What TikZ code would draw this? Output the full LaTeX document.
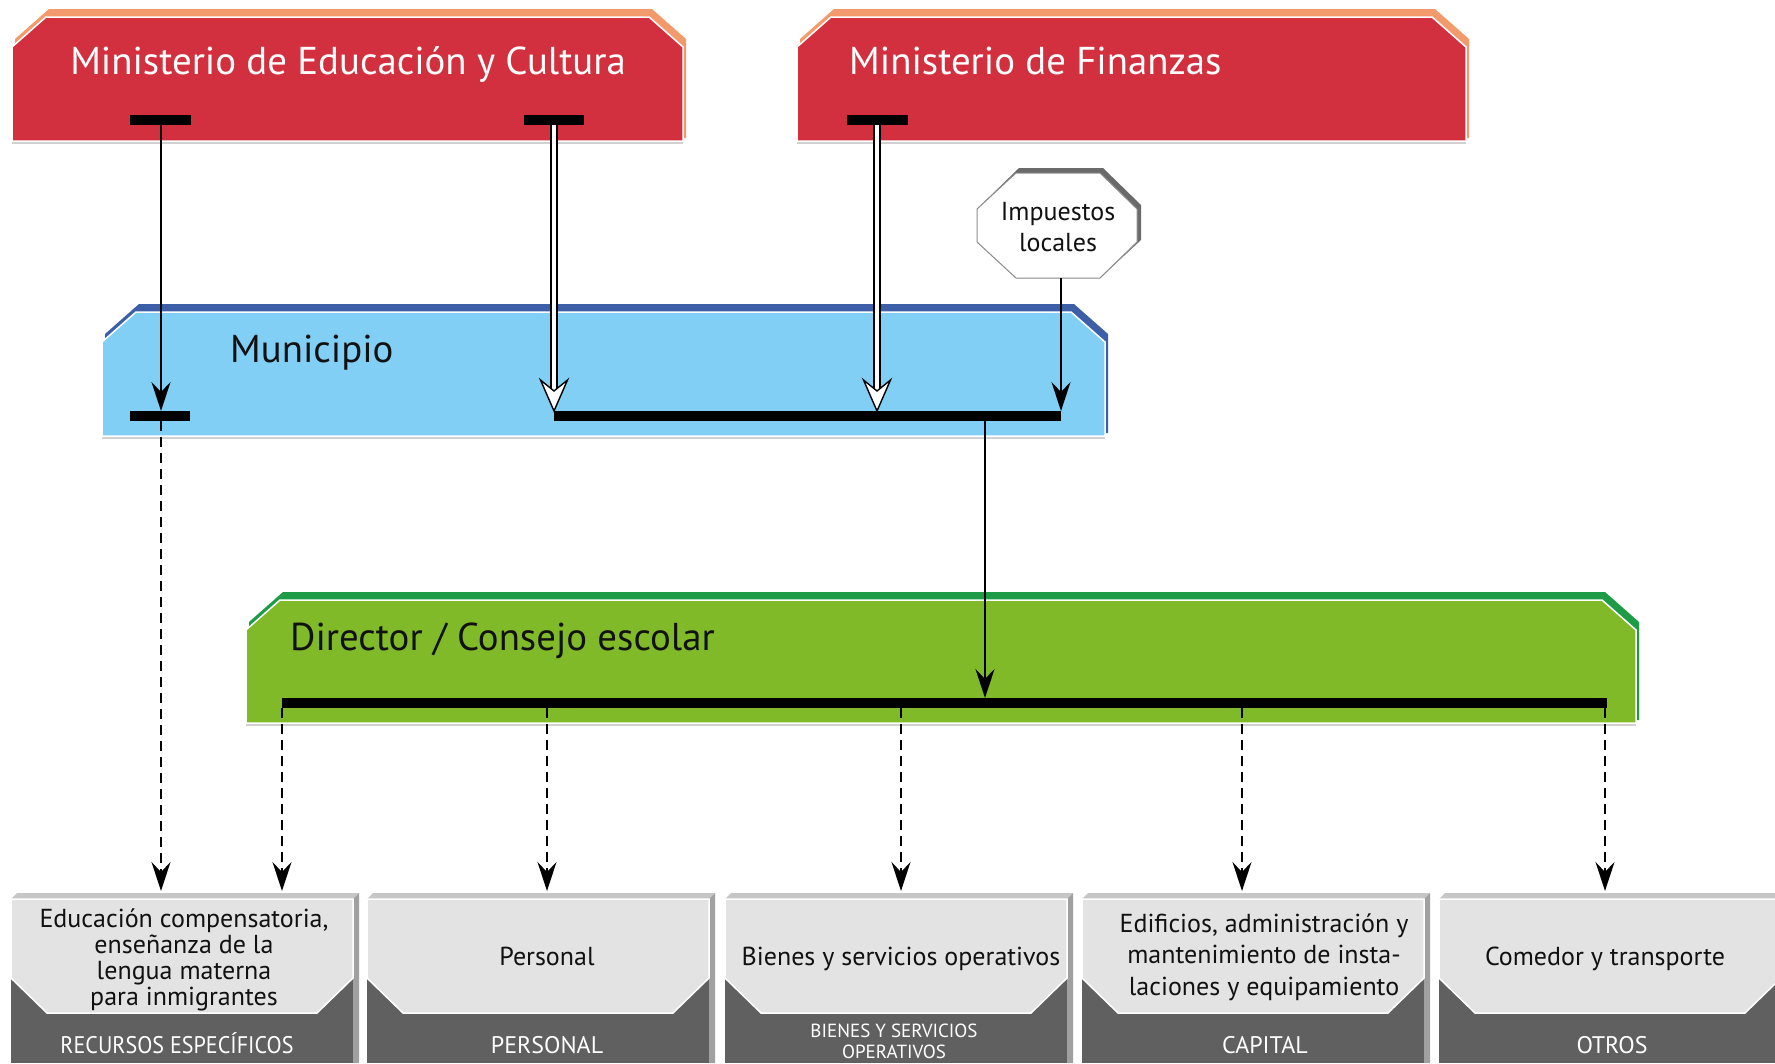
\documentclass[tikz,border=0pt]{standalone}
\usepackage{fontspec}
\usepackage{graphicx}
\setmainfont{PT Sans}
\usetikzlibrary{arrows.meta}
\definecolor{redbox}{HTML}{D2303F}
\definecolor{orangeedge}{HTML}{F29A6C}
\definecolor{bluebox}{HTML}{82CFF5}
\definecolor{blueedge}{HTML}{3D5FA8}
\definecolor{greenbox}{HTML}{80BA28}
\definecolor{greenedge}{HTML}{1E9B47}
\definecolor{lightg}{HTML}{E3E3E3}
\definecolor{darkg}{HTML}{606060}
\definecolor{bevtop}{HTML}{C6C6C6}
\definecolor{bevside}{HTML}{A0A0A0}
\definecolor{octshadow}{HTML}{6A6A6A}
\definecolor{inktext}{HTML}{111111}
\newcommand\BandBox[6]{%
  \fill[#6] (#1+3,#2+22) -- (#1+37,#2-8) -- (#3-31,#2-8) -- (#3+3,#2+22) -- (#3+3,#4-3) -- (#1+3,#4-3) -- cycle;
  \draw[black!18, line width=1.2pt] (#1,#4+2) -- (#3,#4+2);
  \filldraw[fill=#5, draw=white, line width=1.5pt] (#1,#4) -- (#1,#2+30) -- (#1+34,#2) -- (#3-34,#2) -- (#3,#2+30) -- (#3,#4) -- cycle;
}
\begin{document}
\begin{tikzpicture}[x=1pt,y=-1pt,
  bigw/.style={font=\fontsize{38.8}{46}\selectfont, text=white, inner sep=0pt},
  bigk/.style={font=\fontsize{38.8}{46}\selectfont, text=inktext, inner sep=0pt},
  midk/.style={font=\fontsize{26}{26}\selectfont, text=inktext, inner sep=0pt, align=center},
  lblw/.style={font=\fontsize{24}{24}\selectfont, text=white, inner sep=0pt},
  lblsmall/.style={font=\fontsize{19}{20.5}\selectfont, text=white, inner sep=0pt, align=center},
  barline/.style={line width=10pt},
  blkarrow/.style={line width=1.8pt, -{Stealth[length=29pt,width=19pt,inset=10pt]}},
  dasharrow/.style={blkarrow, dash pattern=on 10pt off 6pt},
  hollowshaft/.style={line width=1.7pt, double=white, double distance=4.4pt},
  hollowhead/.style={fill=white, draw=black, line width=1.4pt, line join=miter}]
\useasboundingbox (0,0) rectangle (1775,1063);
\fill[white] (0,0) rectangle (1775,1063);

% ---- band boxes
\BandBox{12}{17}{683}{141}{redbox}{orangeedge}
\BandBox{797}{17}{1466}{141}{redbox}{orangeedge}
\BandBox{102}{312}{1105}{436}{bluebox}{blueedge}
\BandBox{246}{600}{1636}{723}{greenbox}{greenedge}

% ---- bottom boxes
\foreach \xa in {11,367,725,1082,1439} {
  \pgfmathsetmacro\xb{\xa+342}
  \fill[bevtop] (\xa,899) -- (\xa+6,893) -- (\xb+6,893) -- (\xb,899) -- cycle;
  \fill[bevside] (\xb,899) -- (\xb+6,893) -- (\xb+6,1063) -- (\xb,1063) -- cycle;
  \fill[darkg] (\xa,899) rectangle (\xb,1063);
  \filldraw[fill=lightg, draw=white, line width=1.5pt] (\xa,899) -- (\xb,899) -- (\xb,978) -- (\xb-36,1013) -- (\xa+36,1013) -- (\xa,978) -- cycle;
}

% ---- octagon
\fill[octshadow] (1019,168) -- (1103,168) -- (1141,205) -- (1141,240) -- (1100,278) -- (1016,278) -- (977,240) -- (980,206) -- cycle;
\filldraw[fill=white, draw=black!45, line width=1pt] (1016,173) -- (1100,173) -- (1137,209) -- (1137,242) -- (1100,278) -- (1016,278) -- (977,242) -- (977,209) -- cycle;
\node[midk, font=\fontsize{26}{31}\selectfont, anchor=base] (impT) at (1058,251) {Impuestos\\locales};

% ---- texts
\node[bigw, anchor=base] (medT) at (348,74) {Ministerio de Educación y Cultura};
\node[bigw, anchor=base west] (mfT) at (849,74) {Ministerio de Finanzas};
\node[bigk, anchor=base west] (munT) at (230,362) {Municipio};
\node[bigk, anchor=base west] (dirT) at (290,650) {Director / Consejo escolar};

\node[midk, anchor=base] (b1T) at (184,1005) {Educación compensatoria,\\enseñanza de la\\lengua materna\\para inmigrantes};
\node[midk, anchor=base] (b2T) at (547,965) {Personal};
\node[midk, anchor=base] (b3T) at (901,965) {Bienes y servicios operativos};
\node[midk, font=\fontsize{26}{31.5}\selectfont, anchor=base] (b4T) at (1264,995) {Edificios, administración y\\mantenimiento de insta-\\laciones y equipamiento};
\node[midk, anchor=base] (b5T) at (1605,965) {Comedor y transporte};

\node[lblw, anchor=base] (b1L) at (177,1053) {\scalebox{0.92}[1]{RECURSOS ESPECÍFICOS}};
\node[lblw, anchor=base] (b2L) at (547,1053) {PERSONAL};
\node[lblsmall, anchor=base] (b3L) at (894,1058) {BIENES Y SERVICIOS\\OPERATIVOS};
\node[lblw, anchor=base] (b4L) at (1265,1053) {CAPITAL};
\node[lblw, anchor=base] (b5L) at (1612,1053) {OTROS};

% ---- coordinates
\coordinate (medA) at (161,120);
\coordinate (medB) at (554,120);
\coordinate (mfA) at (877,120);
\coordinate (impBot) at (1061,278);
\coordinate (munA) at (161,411);
\coordinate (munAb) at (161,421);
\coordinate (munB) at (554,411);
\coordinate (munC) at (877,411);
\coordinate (munD) at (1061,411);
\coordinate (munOut) at (985,421);
\coordinate (dirIn) at (985,698);
\coordinate (dirL) at (282,703);
\coordinate (dirR) at (1607,703);
\foreach \n/\x in {d1/282,d2/547,d3/901,d4/1242,d5/1605} {
  \coordinate (\n) at (\x,708);
}
\foreach \n/\x in {t0/161,t1/282,t2/547,t3/901,t4/1242,t5/1605} {
  \coordinate (\n) at (\x,891);
}

% ---- connectors
\draw[blkarrow] (medA) -- (munA);
\draw[blkarrow] (impBot) -- (munD);
\draw[blkarrow] (munOut) -- (dirIn);
\draw[hollowshaft] (medB) -- ([yshift=21pt]munB);
\draw[hollowhead] (munB) -- ++(-13.5,-31) -- ++(13.5,11) -- ++(13.5,-11) -- cycle;
\draw[hollowshaft] (mfA) -- ([yshift=21pt]munC);
\draw[hollowhead] (munC) -- ++(-13.5,-31) -- ++(13.5,11) -- ++(13.5,-11) -- cycle;
\draw[dasharrow] (munAb) -- (t0);
\draw[dasharrow] (d1) -- (t1);
\draw[dasharrow] (d2) -- (t2);
\draw[dasharrow] (d3) -- (t3);
\draw[dasharrow] (d4) -- (t4);
\draw[dasharrow] (d5) -- (t5);

% ---- bars
\draw[barline] (130,120) -- (191,120);
\draw[barline] (524,120) -- (584,120);
\draw[barline] (847,120) -- (908,120);
\draw[barline] (130,416) -- (190,416);
\draw[barline] (554,416) -- (1061,416);
\draw[barline] (dirL) -- (dirR);
\end{tikzpicture}
\end{document}
